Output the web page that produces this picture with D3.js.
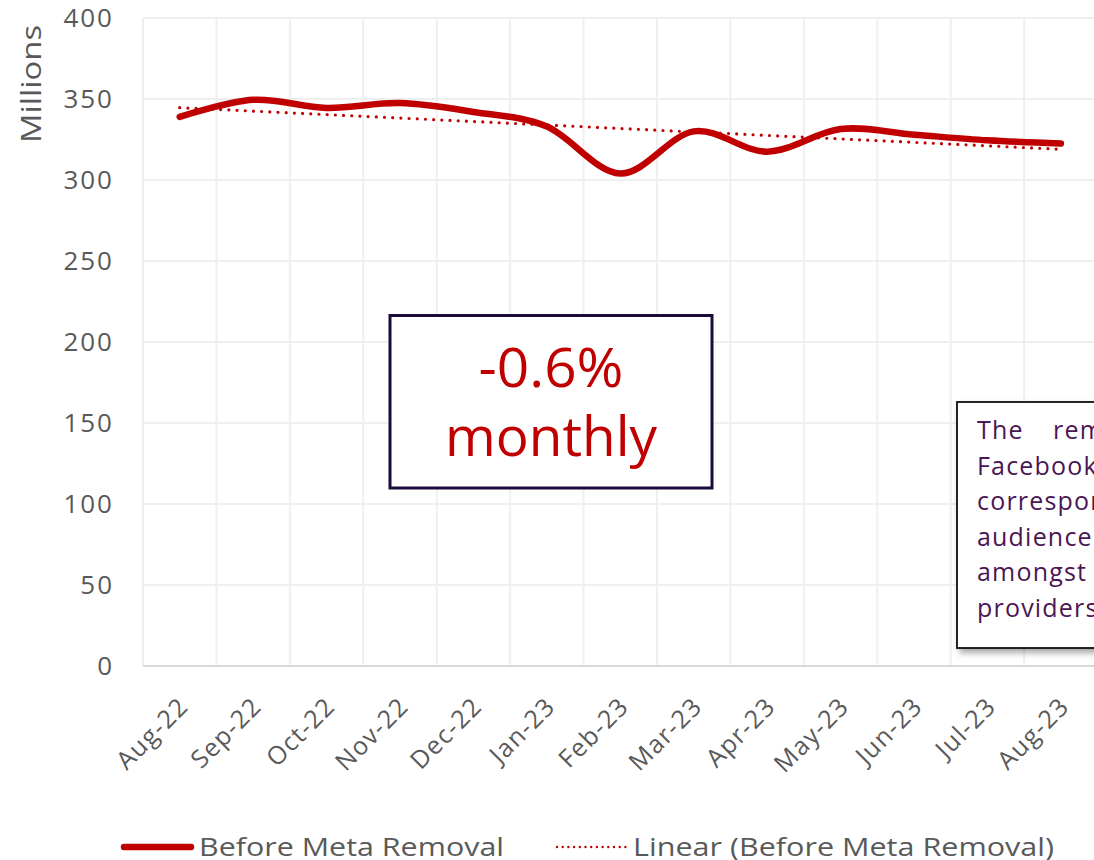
<!DOCTYPE html>
<html>
<head>
<meta charset="utf-8">
<script src="https://cdn.jsdelivr.net/npm/d3@7"></script>
<style>
  body { margin: 0; background: #fff; }
  svg { display: block; font-family: "Open Sans", Lato, sans-serif; }
</style>
</head>
<body>
<svg id="chart" width="1094" height="860"></svg>
<script>
// data
var months = ["Aug-22","Sep-22","Oct-22","Nov-22","Dec-22","Jan-23","Feb-23","Mar-23","Apr-23","May-23","Jun-23","Jul-23","Aug-23"];
var audience = [339, 349.5, 344.5, 347.5, 342, 333, 304, 330, 317.5, 331.5, 328, 324.5, 322.5]; // millions
var yTicks = [0, 50, 100, 150, 200, 250, 300, 350, 400];
var seriesName = "Before Meta Removal";
var trendName = "Linear (Before Meta Removal)";
var boxLines = ["-0.6%", "monthly"];
var noteLines = [["The", "removal of"], ["Facebook news"], ["corresponds to"], ["audience shift"], ["amongst other"], ["providers."]];

var red = "#c00000", grey = "#595959", grid = "#efefef";

var svg = d3.select("#chart");
var width = +svg.attr("width"), height = +svg.attr("height");

var x = d3.scaleBand().domain(months).range([143, 143 + 13 * 73.43]).paddingInner(0).paddingOuter(0);
var y = d3.scaleLinear().domain([0, 400]).range([666, 18]);
var cx = function(d) { return x(d) + x.bandwidth() / 2; };

// gridlines
svg.append("g").selectAll("line").data(yTicks.filter(d => d > 0)).enter().append("line")
  .attr("x1", 143).attr("x2", width).attr("y1", d => y(d)).attr("y2", d => y(d))
  .style("stroke", grid).style("stroke-width", 2);
svg.append("g").selectAll("line").data(months).enter().append("line")
  .attr("x1", d => x(d)).attr("x2", d => x(d)).attr("y1", y(400)).attr("y2", y(0))
  .style("stroke", grid).style("stroke-width", 2);
svg.append("line").attr("x1", 143).attr("x2", width).attr("y1", y(0)).attr("y2", y(0))
  .style("stroke", "#d9d9d9").style("stroke-width", 2);

// y tick labels
svg.append("g").selectAll("text").data(yTicks).enter().append("text")
  .attr("x", 114).attr("y", d => y(d) + 9)
  .attr("text-anchor", "end").style("font-size", "26px").style("fill", grey)
  .style("letter-spacing", "2px")
  .text(d => d);

svg.append("text").attr("transform", "translate(41,84) rotate(-90)")
  .attr("text-anchor", "middle").style("font-size", "27px").style("fill", grey)
  .attr("textLength", 118).attr("lengthAdjust", "spacingAndGlyphs")
  .text("Millions");

// x tick labels
svg.append("g").selectAll("text").data(months).enter().append("text")
  .attr("transform", d => "translate(" + (cx(d) + 10) + ",708) rotate(-45)")
  .attr("text-anchor", "end").style("font-size", "25px").style("fill", grey)
  .style("letter-spacing", "1.3px")
  .text(d => d);

// linear trend (least squares on the series)
var n = audience.length;
var mx = d3.mean(d3.range(n)), my = d3.mean(audience);
var slope = d3.sum(audience, (v, i) => (i - mx) * (v - my)) / d3.sum(d3.range(n), i => (i - mx) * (i - mx));
var trend = months.map((m, i) => my + slope * (i - mx));

svg.append("path").datum(months)
  .attr("d", d3.line().x(d => cx(d)).y((d, i) => y(trend[i])))
  .style("fill", "none").style("stroke", red).style("stroke-width", 3.2)
  .style("stroke-linecap", "round").style("stroke-dasharray", "0 8.2");

svg.append("path").datum(months)
  .attr("d", d3.line().x(d => cx(d)).y((d, i) => y(audience[i])).curve(d3.curveCardinal.tension(0)))
  .style("fill", "none").style("stroke", red).style("stroke-width", 6.5)
  .style("stroke-linecap", "round").style("stroke-linejoin", "round");

// "-0.6% monthly" box
svg.append("rect").attr("x", 390).attr("y", 315.5).attr("width", 322).attr("height", 172.5)
  .style("fill", "#fff").style("stroke", "#1b0a3a").style("stroke-width", 3);
var boxW = [145, 212];
svg.append("g").selectAll("text").data(boxLines).enter().append("text")
  .attr("x", 551).attr("y", (d, i) => 387 + i * 69)
  .attr("text-anchor", "middle").style("font-size", "54px").style("fill", red)
  .attr("textLength", (d, i) => boxW[i]).attr("lengthAdjust", "spacingAndGlyphs")
  .text(d => d);

// note box on the right, cut off by the picture edge as in the original
var defs = svg.append("defs");
var f = defs.append("filter").attr("id", "shadow").attr("x", "-10%").attr("y", "-10%").attr("width", "130%").attr("height", "130%");
f.append("feDropShadow").attr("dx", 3).attr("dy", 4).attr("stdDeviation", 3).attr("flood-color", "#000").attr("flood-opacity", 0.35);
svg.append("rect").attr("x", 957).attr("y", 402).attr("width", 170).attr("height", 246)
  .style("fill", "#fff").style("stroke", "#111").style("stroke-width", 1.8)
  .attr("filter", "url(#shadow)");
var note = svg.append("g").selectAll("text").data(noteLines).enter().append("text")
  .attr("y", (d, i) => 439 + i * 35.5)
  .style("font-size", "25px").style("fill", "#4a1654").style("letter-spacing", "1.2px");
note.selectAll("tspan").data(d => d).enter().append("tspan")
  .attr("x", (d, i) => i === 0 ? 977 : 1053)
  .text(d => d);

// legend
svg.append("line").attr("x1", 124).attr("x2", 191).attr("y1", 847).attr("y2", 847)
  .style("stroke", red).style("stroke-width", 6.5).style("stroke-linecap", "round");
svg.append("text").attr("x", 199).attr("y", 856).style("font-size", "25px").style("fill", grey)
  .attr("textLength", 305).attr("lengthAdjust", "spacingAndGlyphs").text(seriesName);
svg.append("line").attr("x1", 557).attr("x2", 627).attr("y1", 847).attr("y2", 847)
  .style("stroke", red).style("stroke-width", 2.4).style("stroke-linecap", "round")
  .style("stroke-dasharray", "0 5.7");
svg.append("text").attr("x", 633).attr("y", 856).style("font-size", "25px").style("fill", grey)
  .attr("textLength", 421).attr("lengthAdjust", "spacingAndGlyphs").text(trendName);
</script>
</body>
</html>
